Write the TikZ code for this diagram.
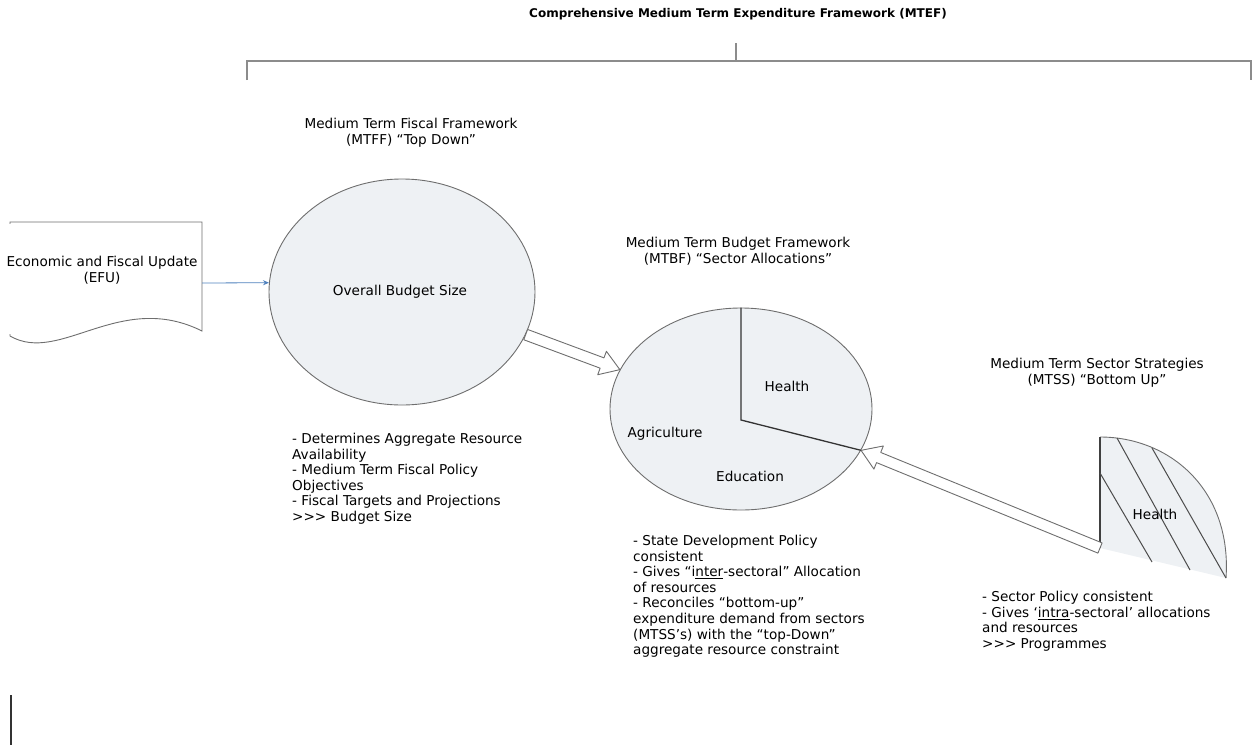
\documentclass[tikz,border=0pt]{standalone}
\usepackage{fontspec}
\setmainfont{DejaVu Sans}
\usetikzlibrary{shapes.geometric,arrows.meta,calc}

\definecolor{discfill}{HTML}{EEF1F4}
\definecolor{rimgray}{HTML}{6E6E6E}
\definecolor{linkblue}{HTML}{4F81BD}

\tikzset{
  disc/.style={ellipse, draw=rimgray, fill=discfill, line width=0.9pt, inner sep=0pt},
  heading/.style={anchor=north, align=center, inner sep=0pt, font=\fontsize{13.6}{15.6}\selectfont},
  notes/.style={anchor=north west, align=left, inner sep=0pt, font=\fontsize{13.6}{15.6}\selectfont},
  label/.style={inner sep=0pt, font=\fontsize{13.6}{15.6}\selectfont},
  sector/.style={draw=black!80, line width=1.3pt},
  hollow/.style={draw=rimgray, fill=white, line width=0.9pt, line join=round},
  bracket/.style={draw=black!45, line width=1.2pt},
}

% wide outlined arrow from #1 (tail) to #2 (tip)
\newcommand{\hollowarrow}[2]{%
  \path (#1) coordinate (ha) (#2) coordinate (ht);
  \path ($(ht)!19pt!(ha)$) coordinate (hh);
  \draw[hollow] ($(ha)!5.5pt!90:(ht)$) -- ($(hh)!5.5pt!90:(ht)$) -- ($(hh)!12.5pt!90:(ht)$)
    -- (ht) -- ($(hh)!12.5pt!-90:(ht)$) -- ($(hh)!5.5pt!-90:(ht)$) -- ($(ha)!5.5pt!-90:(ht)$) -- cycle;
}

\begin{document}
\begin{tikzpicture}[x=1pt,y=-1pt]
  \useasboundingbox (0,0) rectangle (1253,745);

  % MTEF bracket
  \node[font=\bfseries\fontsize{12}{14}\selectfont] (mtef) at (738,14)
    {Comprehensive Medium Term Expenditure Framework (MTEF)};
  \coordinate (brl) at (247,80);
  \coordinate (brr) at (1251,80);
  \coordinate (brtop) at (736,43);
  \draw[bracket] (brl) -- (247,61) -- (1251,61) -- (brr);
  \draw[bracket] (brtop) -- (736,61);

  % EFU document
  \draw[rimgray, fill=white, line width=0.9pt] (10,336) -- (10,222) -- (202,222) -- (202,331)
    .. controls (120,290) and (60,365) .. (10,336);
  \draw[white, line width=2pt] (10,224) -- (10,334);
  \node[label, align=center] (efu) at (102,270) {Economic and Fiscal Update\\(EFU)};
  \coordinate (efuout) at (202,283);

  % MTFF
  \node[heading] (mtff) at (411,118) {Medium Term Fiscal Framework\\(MTFF) “Top Down”};
  \node[disc, minimum width=266pt, minimum height=226pt] (budget) at (402,292) {};
  \node[label] (size) at (400,292) {Overall Budget Size};
  \draw[linkblue, line width=0.8pt, -{Stealth[length=6pt,width=5pt]}] (efuout) -- (budget.176);
  \node[notes] (mtffnotes) at (292,433) {- Determines Aggregate Resource\\Availability\\- Medium Term Fiscal Policy\\Objectives\\- Fiscal Targets and Projections\\>{}>{}> Budget Size};

  % MTBF
  \node[heading] (mtbf) at (738,237) {Medium Term Budget Framework\\(MTBF) “Sector Allocations”};
  \node[disc, minimum width=262pt, minimum height=202pt] (alloc) at (741,409) {};
  \coordinate (hub) at (741,420);
  \draw[sector] (alloc.north) -- (hub) -- (alloc.-19);
  \node[label] (health) at (787,386) {Health};
  \node[label] (agri) at (665,434) {Agriculture};
  \node[label] (edu) at (750,476) {Education};
  \node[notes] (mtbfnotes) at (633,535) {- State Development Policy\\consistent\\- Gives “i\underline{nter}-sectoral” Allocation\\of resources\\- Reconciles “bottom-up”\\expenditure demand from sectors\\(MTSS’s) with the “top-Down”\\aggregate resource constraint};
  \hollowarrow{budget.-19}{alloc.162}

  % MTSS
  \node[heading] (mtss) at (1097,358) {Medium Term Sector Strategies\\(MTSS) “Bottom Up”};
  \coordinate (mtsstail) at (1100,548);
  \fill[discfill] (mtsstail) -- (1100,437) .. controls (1170,437) and (1232,490) .. (1226,578) -- cycle;
  \draw[rimgray, line width=0.9pt] (1100,437) .. controls (1170,437) and (1232,490) .. (1226,578);
  \draw[black!75, line width=1.1pt] (mtsstail) -- (1100,437);
  \draw[black!70, line width=1pt] (1100,473) -- (1152,562) (1117,438) -- (1190,570) (1152,448) -- (1226,578);
  \node[label] (sechealth) at (1155,514) {Health};
  \hollowarrow{mtsstail}{alloc.-19}
  \node[notes] (mtssnotes) at (982,591) {- Sector Policy consistent\\- Gives ‘\underline{intra}-sectoral’ allocations\\and resources\\>{}>{}> Programmes};

  % margin rule
  \coordinate (rulebot) at (11,745);
  \draw[black!80, line width=1.4pt] (11,695) -- (rulebot);
\end{tikzpicture}
\end{document}
